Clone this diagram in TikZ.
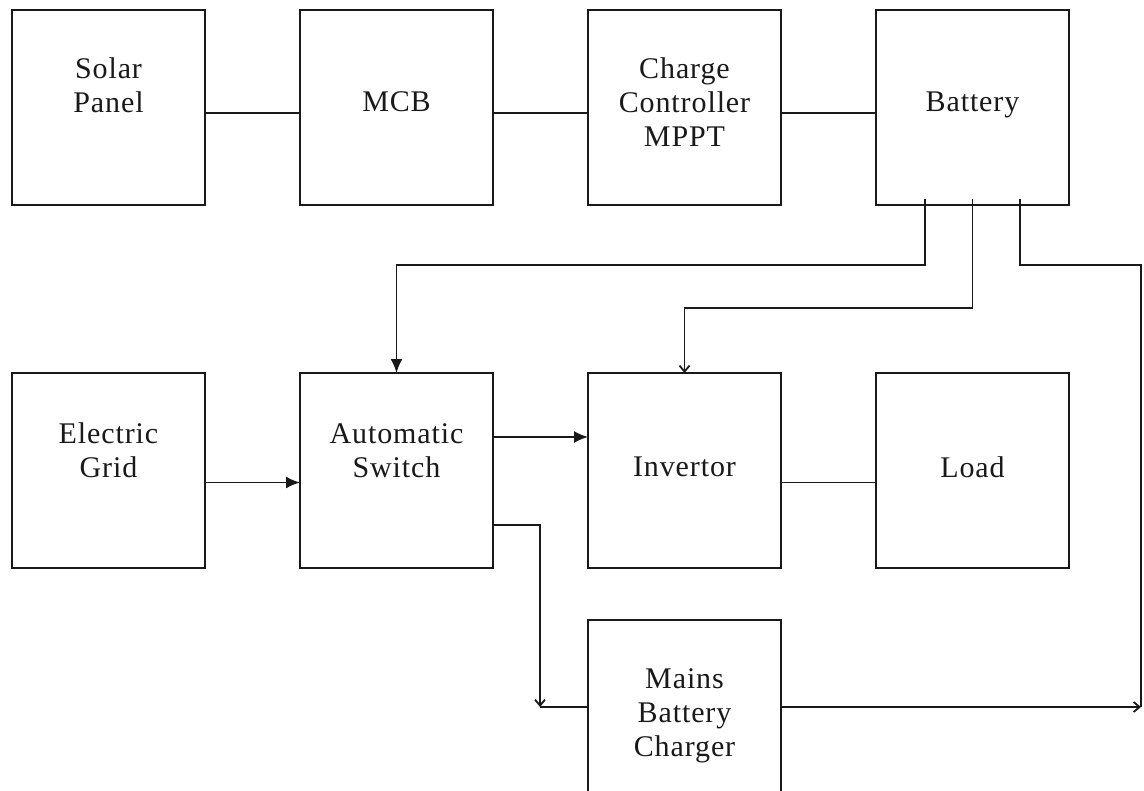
\documentclass[tikz,border=0pt]{standalone}
\usepackage{fontspec}
\setmainfont[LetterSpace=3]{Liberation Serif}
\usepackage{tikz}
\usetikzlibrary{
  arrows.meta,
  positioning
}
\definecolor{pvink}{RGB}{25,25,25}
\tikzset{
  pvBlock/.style={
    rectangle,
    draw=pvink,
    line width=0.9pt,
    minimum width=96.5pt,
    minimum height=97.5pt,
    inner sep=0pt,
    outer sep=0pt
  },
  pvLabel/.style={
    align=center,
    inner sep=0pt,
    text=pvink,
    font=\fontsize{15}{17}\selectfont
  },
  pvLine/.style={
    draw=pvink,
    line width=0.9pt
  },
  pvArrow/.style={
    pvLine,
    -{Latex[length=7pt,width=6pt]}
  },
  pvThinArrow/.style={
    pvLine,
    -{Straight Barb[length=3pt,width=5pt]}
  }
}

\begin{document}
\begin{tikzpicture}[x=0.5pt, y=-0.5pt, node distance=84pt and 47.5pt]
  \useasboundingbox (0,0) rectangle (1144,791);

  % top row
  \node[pvBlock] (solar) at (108.5,107.5) {};
  \node[pvBlock, right=of solar] (mcb) {};
  \node[pvBlock, right=of mcb] (ctrl) {};
  \node[pvBlock, right=of ctrl] (batt) {};

  % middle row
  \node[pvBlock, below=of solar] (grid) {};
  \node[pvBlock, right=of grid] (autoSw) {};
  \node[pvBlock, right=of autoSw] (inv) {};
  \node[pvBlock, right=of inv] (load) {};

  \node[pvBlock, below=26pt of inv, minimum height=87pt] (chg) {};

  % labels
  \node[pvLabel] (solarTxt) at ([yshift=11pt]solar.center) {Solar\\Panel};
  \node[pvLabel] (mcbTxt) at ([yshift=2.75pt]mcb.center) {MCB};
  \node[pvLabel] (ctrlTxt) at ([yshift=2.75pt]ctrl.center)
    {Charge\\Controller\\MPPT};
  \node[pvLabel] (battTxt) at ([yshift=1.25pt]batt.center) {Battery};
  \node[pvLabel] (gridTxt) at ([yshift=10pt]grid.center) {Electric\\Grid};
  \node[pvLabel] (autoSwTxt) at ([yshift=10pt]autoSw.center)
    {Automatic\\Switch};
  \node[pvLabel] (invTxt) at ([yshift=1.75pt]inv.center) {Invertor};
  \node[pvLabel] (loadTxt) at ([yshift=1.75pt]load.center) {Load};
  \node[pvLabel] (chgTxt) at ([yshift=-4.5pt]chg.center)
    {Mains\\Battery\\Charger};

  % connections
  \draw[pvLine] ([yshift=-2.75pt]solar.east) -- ([yshift=-2.75pt]mcb.west);
  \draw[pvLine] ([yshift=-2.75pt]mcb.east) -- ([yshift=-2.75pt]ctrl.west);
  \draw[pvLine] ([yshift=-2.75pt]ctrl.east) -- ([yshift=-2.75pt]batt.west);

  \draw[pvArrow] ([yshift=-6pt]grid.east) -- ([yshift=-6pt]autoSw.west);
  \draw[pvArrow] ([yshift=16.75pt]autoSw.east) -- ([yshift=16.75pt]inv.west);
  \draw[pvLine] ([yshift=-6pt]inv.east) -- ([yshift=-6pt]load.west);

  \draw[pvArrow] ([xshift=-23.75pt, yshift=3pt]batt.south) -- ++(0,66)
    -| (autoSw.north);
  \draw[pvThinArrow] ([yshift=3pt]batt.south) -- ++(0,109) -| (inv.north);

  \coordinate (rightEnd) at ([xshift=180pt]chg.east);
  \draw[pvLine] ([xshift=23.75pt, yshift=3pt]batt.south) -- ++(0,66)
    -| (rightEnd);
  \draw[pvThinArrow] (chg.east) -- (rightEnd);

  \coordinate (chgIn) at ([xshift=-24pt]chg.west);
  \draw[pvThinArrow] ([yshift=-27.25pt]autoSw.east) -| (chgIn);
  \draw[pvLine] (chgIn) -- (chg.west);
\end{tikzpicture}
\end{document}
